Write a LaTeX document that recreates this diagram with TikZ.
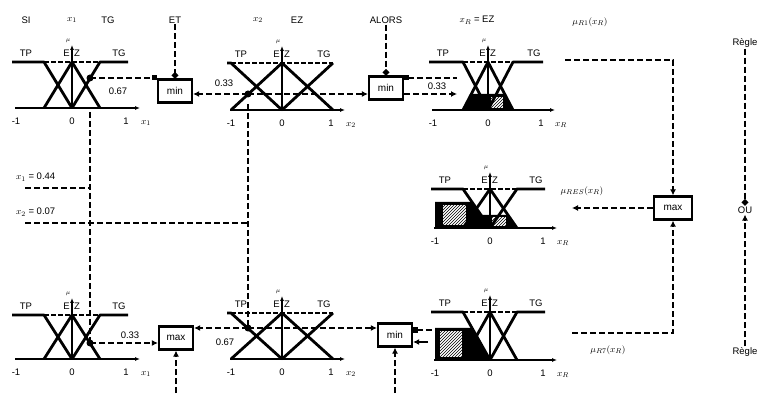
\documentclass[tikz,border=0pt]{standalone}
\usepackage{fontspec}
\setmainfont{Liberation Sans}
\usetikzlibrary{arrows.meta,patterns}

% one membership chart: name, axis x, base y, top y, EZ half width, unit, x label
\newcommand{\mfchart}[7]{%
  \draw[axisline,-{Latex[length=5pt,width=4pt]}] (#2-#6-1,#3) -- (#2+#6+12,#3);
  \draw[axisline,-{Latex[length=5pt,width=4pt]}] (#2,#3) -- (#2,#4-17);
  \draw[line width=1.8pt,dash pattern=on 5pt off 2pt] (#2-#5,#4) -- (#2+#5,#4);
  \draw[mfline] (#2-#6-4,#4) -- (#2-#5,#4) -- (#2,#3);
  \draw[mfline] (#2-#5,#3) -- (#2,#4) -- (#2+#5,#3);
  \draw[mfline] (#2,#3) -- (#2+#5,#4) -- (#2+#6,#4);
  \node[lbl] (#1-tp) at (#2-#6+10,#4-9) {TP};
  \node[lbl,anchor=east] (#1-e) at (#2-1,#4-9) {E};
  \node[lbl,anchor=west] (#1-z) at (#2+1,#4-9) {Z};
  \node[lbl] (#1-tg) at (#2+#6-9,#4-9) {TG};
  \node[mulbl] (#1-mu) at (#2-4,#4-21) {$\mu$};
  \node[lbl] (#1-m) at (#2-#6,#3+13) {-1};
  \node[lbl] (#1-o) at (#2,#3+13) {0};
  \node[lbl] (#1-p) at (#2+#6-2,#3+13) {1};
  \node[lbl] (#1-x) at (#2+#6+18,#3+15) {#7};
}

\begin{document}
\begin{tikzpicture}[x=1pt,y=-1pt,
  lbl/.style={font=\fontsize{9.5}{11}\selectfont,inner sep=1pt},
  mulbl/.style={font=\fontsize{6}{7}\selectfont,inner sep=0pt},
  opbox/.style={draw,line width=2.2pt,minimum width=34pt,minimum height=23pt,inner sep=1pt,font=\fontsize{10}{12}\selectfont},
  mfline/.style={line width=2.8pt,line join=round},
  axisline/.style={line width=1.2pt},
  dline/.style={line width=2.6pt,dash pattern=on 6pt off 3pt},
  tipa/.style={-{Latex[length=6pt,width=6pt]}}]
\useasboundingbox[fill=white] (0,0) rectangle (763,395);

% rule 1 text
\node[lbl] (si1) at (26,20) {SI};
\node[lbl] (in1) at (72,20) {$x_1$};
\node[lbl] (tg1) at (108,20) {TG};
\node[lbl] (et1) at (175,20) {ET};
\node[lbl] (in2) at (258,20) {$x_2$};
\node[lbl] (ez2) at (297,20) {EZ};
\node[lbl] (alors1) at (386,20) {ALORS};
\node[lbl] (out1) at (477,20) {$x_R$ = EZ};

% conclusions (filled parts)
\fill (463,110) -- (471,94) -- (505,94) -- (513,110) -- cycle;
\fill[white] (491,97) rectangle (503,108);
\fill[pattern=north east lines] (491,97) rectangle (503,108);
\fill (435,228) -- (435,202) -- (472,202) -- (481,215) -- (508,215) -- (517,228) -- cycle;
\fill[white] (443,205) rectangle (466,225);
\fill[pattern=north east lines] (443,205) rectangle (466,225);
\fill[white] (492,217) rectangle (506,226);
\fill[pattern=north east lines] (492,217) rectangle (506,226);
\fill (435,360) -- (435,328) -- (472,328) -- (490,360) -- cycle;
\fill[white] (440,331) rectangle (462,357);
\fill[pattern=north east lines] (440,331) rectangle (462,357);

% charts
\mfchart{ca}{72}{108}{62}{28}{56}{$x_1$}
\mfchart{cb}{282}{110}{63}{51}{51}{$x_2$}
\mfchart{cr}{488}{110}{62}{25}{55}{$x_R$}
\mfchart{cs}{490}{228}{189}{27}{55}{$x_R$}
\mfchart{cc}{72}{359}{315}{28}{56}{$x_1$}
\mfchart{cd}{282}{359}{313}{51}{51}{$x_2$}
\mfchart{ce}{490}{360}{312}{27}{55}{$x_R$}

% operators
\node[opbox] (min1) at (175,91) {min};
\node[opbox] (min2) at (386,88) {min};
\node[opbox] (max1) at (176,338) {max};
\node[opbox] (min3) at (395,335) {min};
\node[opbox,minimum width=38pt] (max2) at (673,208) {max};

% inputs
\coordinate (c1) at (90,78);
\coordinate (c4) at (90,343);
\coordinate (j2) at (248,94);
\coordinate (j5) at (248,328);
\foreach \p in {c1,c4,j2,j5} \fill (\p) circle (3.5);
\coordinate (v1top) at (90,112);
\coordinate (v2top) at (248,104);
\draw[dline] (v1top) -- (c4);
\draw[dline] (v2top) -- (j5);
\coordinate (x1in) at (25,188);
\coordinate (x2in) at (25,223);
\draw[dline] (x1in) -- (x1in -| c4);
\draw[dline] (x2in) -- (x2in -| j5);
\node[lbl,anchor=west] (x1lbl) at (15,177) {$x_1$ = 0.44};
\node[lbl,anchor=west] (x2lbl) at (15,212) {$x_2$ = 0.07};

% rule 1
\draw[dline,-{Circle[length=6pt]}] (et1) -- (min1);
\draw[dline,-{Square[length=5pt,width=5pt]}] (c1) -- (c1 -| min1.west);
\node[lbl] (v1b) at (118,91) {0.67};
\draw[dline,tipa] (j2) -- (j2 -| min1.east);
\draw[dline,tipa] (j2) -- (j2 -| min2.west);
\node[lbl] (v1a) at (224,83) {0.33};
\draw[dline,-{Circle[length=6pt]}] (alors1) -- (min2);
\coordinate (r1) at (457,78);
\coordinate (r2) at (457,94);
\draw[dline,{Square[length=5pt,width=5pt]}-] (r1 -| min2.east) -- (r1);
\draw[dline,tipa] (r2 -| min2.east) -- (r2);
\node[lbl] (v2a) at (437,86) {0.33};

% rule 7
\draw[dline,tipa] (c4) -- (c4 -| max1.west);
\node[lbl] (v3a) at (130,335) {0.33};
\draw[dline,tipa] (j5) -- (j5 -| max1.east);
\draw[dline,tipa] (j5) -- (j5 -| min3.west);
\node[lbl] (v3b) at (225,342) {0.67};
\coordinate (b1) at (176,393);
\coordinate (b3) at (395,393);
\draw[dline,tipa] (b1) -- (max1);
\draw[dline,tipa] (b3) -- (min3);
\coordinate (r6) at (437,330);
\coordinate (r7) at (428,342);
\draw[dline,{Square[length=5pt,width=5pt]}-] (r6 -| min3.east) -- (r6);
\draw[line width=2pt,tipa] (r7) -- (r7 -| min3.east);

% aggregation
\node[lbl] (mu1) at (590,22) {$\mu_{R1}(x_R)$};
\coordinate (p1) at (565,60);
\draw[dline,tipa] (p1) -| (max2);
\coordinate (q1) at (572,208);
\draw[dline,tipa] (max2) -- (q1);
\node[lbl] (mures) at (582,191) {$\mu_{RES}(x_R)$};
\coordinate (p7) at (572,333);
\draw[dline,tipa] (p7) -| (max2);
\node[lbl] (mu7) at (608,350) {$\mu_{R7}(x_R)$};

% rules combined
\node[lbl] (regle1) at (745,43) {Règle};
\node[lbl] (ou) at (745,210) {OU};
\node[lbl] (regle7) at (745,352) {Règle};
\draw[dline,-{Circle[length=6pt]}] (regle1) -- (ou);
\draw[dline,tipa] (regle7) -- (ou);
\end{tikzpicture}
\end{document}
